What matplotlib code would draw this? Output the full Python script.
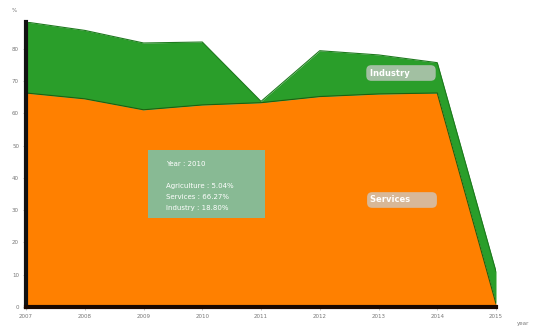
import matplotlib
matplotlib.use("Agg")
import matplotlib.pyplot as plt
from matplotlib.patches import Rectangle
import numpy as np

years = [2007, 2008, 2009, 2010, 2011, 2012, 2013, 2014, 2015]
services = [66.3, 64.5, 61.1, 62.6, 63.3, 65.2, 66.0, 66.3, 1.0]
industry = [22.0, 21.2, 20.7, 19.5, 0.4, 14.2, 12.1, 9.4, 10.0]
yticks = [0, 10, 20, 30, 40, 50, 60, 70, 80]
tooltip_lines = ["Agriculture : 5.04%", "Services : 66.27%", "Industry : 18.80%"]
tooltip_title = "Year : 2010"

W, H = 533, 327
fig = plt.figure(figsize=(W / 100, H / 100), dpi=100)
ax = fig.add_axes([26 / W, 1 - 307 / H, (496 - 26) / W, (307 - 22) / H])

s = np.array(services)
tot = s + np.array(industry)
orange = "#ff8000"
green = "#2a9e2a"
ax.fill_between(years, 0, s, color=orange, linewidth=0)
ax.fill_between(years, s, tot, color=green, linewidth=0)
ax.plot(years, s, color="#1f5f10", linewidth=0.8)
ax.plot(years, tot, color="#1e7a1e", linewidth=0.8)

ax.set_xlim(years[0], years[-1])
ax.set_ylim(0, tot.max())
ax.set_xticks(years)
ax.set_xticklabels([str(y) for y in years], fontsize=4, color="#777777")
ax.set_yticks(yticks)
ax.set_yticklabels([str(v) for v in yticks], fontsize=4, color="#777777")
ax.tick_params(axis="both", length=2, width=0.5, color="#aaaaaa", pad=3)
for side in ["top", "right"]:
    ax.spines[side].set_visible(False)
ax.spines["left"].set_linewidth(3)
ax.spines["left"].set_color("#111111")
ax.spines["bottom"].set_linewidth(3)
ax.spines["bottom"].set_color("#1a0800")

fig.text(14 / W, 1 - 11 / H, "%", fontsize=4, color="#777777", ha="center", va="center")
fig.text(523 / W, 1 - 323 / H, "year", fontsize=4, color="#777777", ha="center", va="center")

# series labels
for label, cx, cy in [("Industry", 401, 73), ("Services", 402, 200)]:
    fig.text(cx / W, 1 - cy / H, label + "        ", fontsize=6, color="white",
             fontweight="bold", ha="center", va="center",
             bbox=dict(boxstyle="round,pad=0.4,rounding_size=0.6",
                       facecolor="#cccccc", edgecolor="none", alpha=0.75))

# tooltip
fig.patches.append(Rectangle((148 / W, 1 - 218 / H), (265 - 148) / W, (218 - 150) / H,
                             transform=fig.transFigure, facecolor="#84bd9a",
                             edgecolor="none", alpha=0.97))
fig.text(166 / W, 1 - 164 / H, tooltip_title, fontsize=5, color="white", va="center")
for i, line in enumerate(tooltip_lines):
    fig.text(166 / W, 1 - (186 + 11 * i) / H, line, fontsize=5, color="white", va="center")

fig.savefig("out.png", dpi=100)
